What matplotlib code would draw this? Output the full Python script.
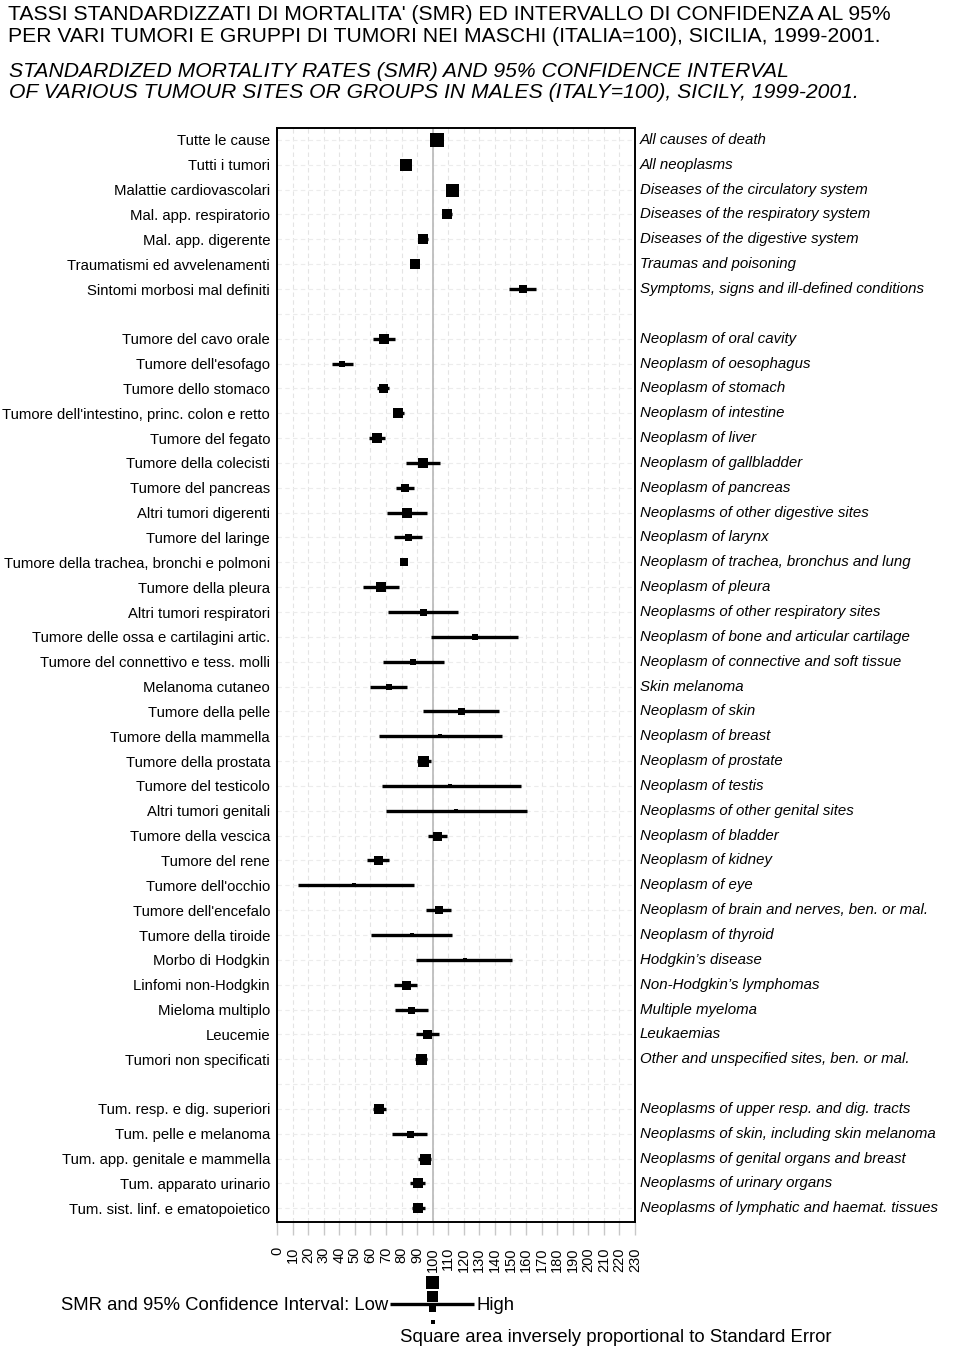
import numpy as np
import matplotlib
matplotlib.use('Agg')
import matplotlib.pyplot as plt
from matplotlib.patches import Rectangle

plt.rcParams['font.family'] = ['Liberation Sans', 'DejaVu Sans']

# ---- data (SMR, 95% CI, square side ~ 1/SE) ----
labels_it_1 = ['Tutte le cause', 'Tutti i tumori', 'Malattie cardiovascolari',
               'Mal. app. respiratorio', 'Mal. app. digerente',
               'Traumatismi ed avvelenamenti', 'Sintomi morbosi mal definiti']
labels_en_1 = ['All causes of death', 'All neoplasms', 'Diseases of the circulatory system',
               'Diseases of the respiratory system', 'Diseases of the digestive system',
               'Traumas and poisoning', 'Symptoms, signs and ill-defined conditions']
smr_1 = [103.0, 83.0, 112.4, 109.4, 94.0, 88.5, 157.8]
lo_1 = [102.0, 81.5, 111.0, 106.5, 91.0, 85.5, 148.9]
hi_1 = [104.0, 84.5, 114.0, 112.5, 97.0, 91.5, 166.4]
w_1 = [13.3, 12.7, 13.0, 10.7, 10.7, 10.7, 7.3]

labels_it_2 = ['Tumore del cavo orale', "Tumore dell'esofago", 'Tumore dello stomaco',
               "Tumore dell'intestino, princ. colon e retto", 'Tumore del fegato',
               'Tumore della colecisti', 'Tumore del pancreas', 'Altri tumori digerenti',
               'Tumore del laringe', 'Tumore della trachea, bronchi e polmoni',
               'Tumore della pleura', 'Altri tumori respiratori',
               'Tumore delle ossa e cartilagini artic.', 'Tumore del connettivo e tess. molli',
               'Melanoma cutaneo', 'Tumore della pelle', 'Tumore della mammella',
               'Tumore della prostata', 'Tumore del testicolo', 'Altri tumori genitali',
               'Tumore della vescica', 'Tumore del rene', "Tumore dell'occhio",
               "Tumore dell'encefalo", 'Tumore della tiroide', 'Morbo di Hodgkin',
               'Linfomi non-Hodgkin', 'Mieloma multiplo', 'Leucemie',
               'Tumori non specificati']
labels_en_2 = ['Neoplasm of oral cavity', 'Neoplasm of oesophagus', 'Neoplasm of stomach',
               'Neoplasm of intestine', 'Neoplasm of liver', 'Neoplasm of gallbladder',
               'Neoplasm of pancreas', 'Neoplasms of other digestive sites',
               'Neoplasm of larynx', 'Neoplasm of trachea, bronchus and lung',
               'Neoplasm of pleura', 'Neoplasms of other respiratory sites',
               'Neoplasm of bone and articular cartilage',
               'Neoplasm of connective and soft tissue', 'Skin melanoma',
               'Neoplasm of skin', 'Neoplasm of breast', 'Neoplasm of prostate',
               'Neoplasm of testis', 'Neoplasms of other genital sites',
               'Neoplasm of bladder', 'Neoplasm of kidney', 'Neoplasm of eye',
               'Neoplasm of brain and nerves, ben. or mal.', 'Neoplasm of thyroid',
               'Hodgkin\u2019s disease', 'Non-Hodgkin\u2019s lymphomas', 'Multiple myeloma',
               'Leukaemias', 'Other and unspecified sites, ben. or mal.']
smr_2 = [68.7, 42.0, 67.9, 78.0, 64.0, 93.8, 82.0, 83.7, 84.4, 81.4,
         67.0, 93.8, 127.0, 87.6, 72.0, 118.2, 104.9, 94.0, 111.4, 114.8,
         103.0, 65.1, 49.7, 103.9, 86.5, 120.8, 82.9, 86.1, 96.4, 92.5]
lo_2 = [61.5, 35.5, 64.0, 74.9, 58.9, 83.1, 76.3, 70.5, 75.4, 79.5,
        55.5, 71.5, 98.7, 67.9, 59.5, 93.8, 65.7, 89.9, 67.5, 70.2,
        96.8, 57.8, 13.3, 95.9, 60.6, 89.5, 75.4, 75.6, 89.5, 88.7]
hi_2 = [75.8, 48.6, 72.0, 81.3, 69.6, 104.9, 87.8, 96.4, 93.2, 83.5,
        78.4, 116.5, 154.8, 107.5, 83.7, 142.8, 144.8, 98.7, 157.0, 160.6,
        109.2, 72.2, 87.8, 111.6, 112.2, 151.2, 89.7, 96.8, 104.1, 96.4]
w_2 = [9.3, 6.5, 9.0, 10.5, 10.0, 10.0, 7.3, 10.0, 7.0, 8.0,
       10.0, 7.0, 6.0, 6.0, 6.0, 7.0, 4.5, 11.0, 4.5, 4.5,
       9.0, 9.0, 4.5, 8.0, 5.0, 5.0, 9.0, 7.0, 9.0, 11.0]

labels_it_3 = ['Tum. resp. e dig. superiori', 'Tum. pelle e melanoma',
               'Tum. app. genitale e mammella', 'Tum. apparato urinario',
               'Tum. sist. linf. e ematopoietico']
labels_en_3 = ['Neoplasms of upper resp. and dig. tracts',
               'Neoplasms of skin, including skin melanoma',
               'Neoplasms of genital organs and breast', 'Neoplasms of urinary organs',
               'Neoplasms of lymphatic and haemat. tissues']
smr_3 = [65.7, 85.2, 94.9, 90.4, 90.6]
lo_3 = [61.9, 74.1, 90.6, 85.7, 86.5]
hi_3 = [70.0, 96.4, 99.1, 95.1, 94.9]
w_3 = [10.0, 7.0, 11.0, 10.0, 10.0]

xticks = np.arange(0, 231, 10)

# ---- assemble rows with a blank row between groups ----
groups = [(labels_it_1, labels_en_1, smr_1, lo_1, hi_1, w_1),
          (labels_it_2, labels_en_2, smr_2, lo_2, hi_2, w_2),
          (labels_it_3, labels_en_3, smr_3, lo_3, hi_3, w_3)]
rows = []
pos = 0
for g in groups:
    for i in range(len(g[0])):
        rows.append((pos, g[0][i], g[1][i], g[2][i], g[3][i], g[4][i], g[5][i]))
        pos += 1
    pos += 1
nrows = pos - 1

W, H = 960, 1348
fig = plt.figure(figsize=(W / 100, H / 100), dpi=100)

# overlay for titles / legend, in pixel coords
lay = fig.add_axes([0, 0, 1, 1], zorder=0)
lay.set_xlim(0, W)
lay.set_ylim(H, 0)
lay.axis('off')

x0, x1, y0, y1 = 277, 635, 128, 1222
ax = fig.add_axes([x0 / W, 1 - y1 / H, (x1 - x0) / W, (y1 - y0) / H], zorder=1)
ax.set_xlim(0, 230)
ax.set_ylim(nrows - 0.45, -0.48)

# faint dashed grid
for xv in xticks:
    ax.axvline(xv, color='#e4e4e4', lw=0.8, ls=(0, (4, 3)), zorder=0)
for r in range(nrows):
    ax.axhline(r, color='#ececec', lw=0.8, ls=(0, (4, 3)), zorder=0)
ax.axvline(100, color='#bdbdbd', lw=1.3, zorder=1)

for (r, lit, len_, s, lo, hi, w) in rows:
    ax.plot([lo, hi], [r, r], color='black', lw=2.4, solid_capstyle='butt', zorder=3)
    ax.plot([s], [r], marker='s', color='black', ms=w * 0.72, mew=0, zorder=4)
    ax.text(1 + 5 / (x1 - x0), r, len_, transform=ax.get_yaxis_transform(),
            ha='left', va='center', fontsize=10.8, style='italic')

ax.set_yticks([r[0] for r in rows])
ax.set_yticklabels([r[1] for r in rows], fontsize=10.7)
ax.tick_params(axis='y', length=0, pad=5)

ax.set_xticks(xticks)
ax.set_xticklabels([str(v) for v in xticks], rotation=90, fontsize=10.5)
ax.tick_params(axis='x', length=9, width=1, color='#c8c8c8', pad=9)
for sp in ax.spines.values():
    sp.set_linewidth(1.4)

# ---- titles ----
tkw = dict(fontsize=15.2, ha='left', va='baseline')
lay.text(8, 20, "TASSI STANDARDIZZATI DI MORTALITA' (SMR) ED INTERVALLO DI CONFIDENZA AL 95%", **tkw)
lay.text(8, 41.5, "PER VARI TUMORI E GRUPPI DI TUMORI NEI MASCHI (ITALIA=100), SICILIA, 1999-2001.", **tkw)
lay.text(9, 77, "STANDARDIZED MORTALITY RATES (SMR) AND 95% CONFIDENCE INTERVAL", style='italic', **tkw)
lay.text(9, 98.5, "OF VARIOUS TUMOUR SITES OR GROUPS IN MALES (ITALY=100), SICILY, 1999-2001.", style='italic', **tkw)

# ---- legend ----
lay.text(388, 1305, 'SMR and 95% Confidence Interval: Low', fontsize=13.3, ha='right', va='center')
lay.plot([390, 474], [1304, 1304], color='black', lw=2.4, solid_capstyle='butt')
lay.text(476, 1306, 'High', fontsize=13.3, ha='left', va='center')
for cy, sz in [(1282, 13), (1296.5, 10.5), (1308, 7.5), (1322, 4)]:
    lay.add_patch(Rectangle((432.5 - sz / 2, cy - sz / 2), sz, sz, color='black', lw=0))
lay.text(400, 1337, 'Square area inversely proportional to Standard Error', fontsize=13.4,
         ha='left', va='center')

fig.savefig('out.png', dpi=100)
